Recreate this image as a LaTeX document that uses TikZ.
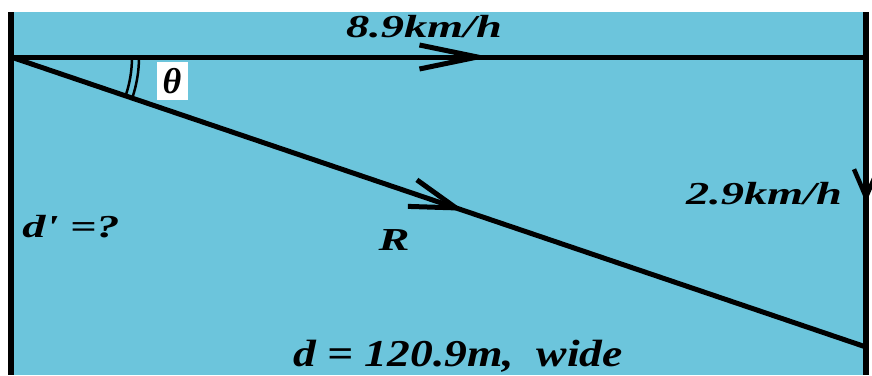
\documentclass[tikz,border=0pt]{standalone}
\usepackage{fontspec}
\usepackage{tikz}
\usetikzlibrary{arrows.meta,decorations.markings}
\newfontfamily\lblfont[FakeStretch=1.45]{Liberation Serif}
\newfontfamily\widefont[FakeStretch=1.2]{Liberation Serif}
\newfontfamily\thetafont{Liberation Serif}
\definecolor{water}{RGB}{108,197,220}

\begin{document}
\begin{tikzpicture}[x=1pt, y=-1pt,
    bank/.style={line width=6.5pt},
    vec/.style={line width=5pt},
    lbl/.style={font=\lblfont\bfseries\itshape\fontsize{32}{32}\selectfont, inner sep=0pt, anchor=base}]
  \useasboundingbox (0,0) rectangle (872,375);
  \fill[water] (11,12) rectangle (866,375);
  % banks and vectors
  \coordinate (lb1) at (11,12);
  \coordinate (lb2) at (11,375);
  \coordinate (rb1) at (866,12);
  \coordinate (rb2) at (866,375);
  \coordinate (tl) at (11,57);
  \coordinate (tr) at (866,57);
  \coordinate (br) at (866,347);
  \draw[bank] (lb1) -- (lb2);
  \draw[bank, postaction={decorate}, decoration={markings,
      mark=at position 0.526 with {\arrow{Straight Barb[length=28pt,width=24pt,line width=4.5pt]}}}] (rb1) -- (rb2);
  \draw[vec, postaction={decorate}, decoration={markings,
      mark=at position 0.56 with {\arrow{Straight Barb[length=58pt,width=24pt,line width=5pt]}}}] (tl) -- (tr);
  \draw[vec, postaction={decorate}, decoration={markings,
      mark=at position 0.53 with {\arrow{Straight Barb[length=46pt,width=28pt,line width=5pt]}}}] (tl) -- (br);
  % angle
  \draw[line width=2.5pt] (tl) ++(121,0) arc[start angle=0, end angle=-18.66, radius=121pt];
  \draw[line width=2.5pt] (tl) ++(128,0) arc[start angle=0, end angle=-18.66, radius=128pt];
  \node[fill=white, inner sep=0pt, minimum width=31pt, minimum height=38pt,
        font=\thetafont\bfseries\itshape\fontsize{36}{36}\selectfont] (theta) at (172,81) {θ};
  % labels
  \node[lbl] (vboat) at (424,37) {8.9km/h};
  \node[lbl] (vriver) at (764,204) {2.9km/h};
  \node[lbl] (dprime) at (71,237) {d' =?};
  \node[lbl] (resultant) at (394,250) {R};
  \node[lbl, font=\widefont\bfseries\itshape\fontsize{38}{38}\selectfont] (width) at (458,366) {d = 120.9m,\ \ wide};
\end{tikzpicture}
\end{document}
